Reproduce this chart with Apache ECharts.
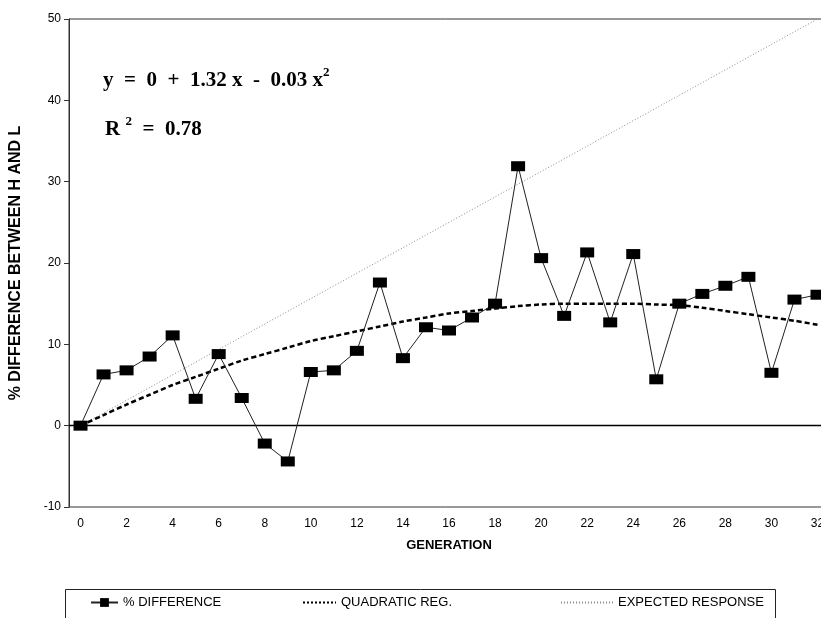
<!DOCTYPE html>
<html>
<head>
<meta charset="utf-8">
<script src="https://cdn.jsdelivr.net/npm/echarts@6/dist/echarts.min.js"></script>
<style>
  html, body { margin: 0; padding: 0; background: #fff; }
  #view { width: 821px; height: 618px; }
</style>
</head>
<body>
<div id="view"></div>
<script>
// generation 0..32
var generations = [];
for (var g = 0; g <= 32; g++) generations.push(String(g));

// % difference between H and L lines
var pctDiff = [0, 6.3, 6.8, 8.5, 11.1, 3.3, 8.8, 3.4, -2.2, -4.4,
  6.6, 6.8, 9.2, 17.6, 8.3, 12.1, 11.7, 13.3, 15.0, 31.9,
  20.6, 13.5, 21.3, 12.7, 21.1, 5.7, 15.0, 16.2, 17.2, 18.3,
  6.5, 15.5, 16.1];

// quadratic regression curve, read at each generation
var quadReg = [0, 1.3, 2.6, 3.8, 5.0, 6.0, 7.0, 8.0, 8.8, 9.6,
  10.4, 11.0, 11.6, 12.2, 12.8, 13.3, 13.8, 14.1, 14.4, 14.7,
  14.9, 15.0, 15.0, 15.0, 15.0, 14.9, 14.8, 14.5, 14.1, 13.7,
  13.3, 12.9, 12.4];

// expected response: straight line, two ends
var expectedGen = ['0', '32'];
var expectedVal = [0, 50];

var seriesNames = ['% DIFFERENCE', 'QUADRATIC REG.', 'EXPECTED RESPONSE'];

var font = 'Liberation Sans, Arial, sans-serif';
var serif = 'Liberation Serif, Times New Roman, serif';
var legendText = { fontFamily: font, fontSize: 13, color: '#000' };

var option = {
  animation: false,
  backgroundColor: '#fff',
  grid: {
    left: 69,
    right: -8,
    top: 19,
    bottom: 111,
    outerBoundsMode: 'none',
    containLabel: false,
    show: true,
    borderColor: '#333',
    borderWidth: 1
  },
  legend: [{
    data: [seriesNames[0]],
    left: 90, top: 596,
    padding: 0,
    itemWidth: 27, itemHeight: 11,
    textStyle: legendText
  }, {
    data: [seriesNames[1]],
    left: 302, top: 596,
    padding: 0,
    itemWidth: 33, itemHeight: 11,
    itemStyle: { opacity: 0 },
    lineStyle: { width: 2, type: [2, 2] },
    textStyle: legendText
  }, {
    data: [seriesNames[2]],
    left: 560, top: 596,
    padding: 0,
    itemWidth: 52, itemHeight: 11,
    itemStyle: { opacity: 0 },
    textStyle: legendText
  }],
  xAxis: {
    type: 'category',
    data: generations,
    boundaryGap: true,
    name: 'GENERATION',
    nameLocation: 'middle',
    nameGap: 32,
    nameTextStyle: { fontFamily: font, fontSize: 13, fontWeight: 'bold', color: '#000' },
    axisLine: { lineStyle: { color: '#333', width: 1 } },
    axisTick: { alignWithLabel: true, interval: 0, length: 7, lineStyle: { color: '#333' } },
    axisLabel: { interval: 1, margin: 11, fontFamily: font, fontSize: 12, color: '#000' },
    splitLine: { show: false }
  },
  yAxis: {
    type: 'value',
    min: -10,
    max: 50,
    interval: 10,
    name: '% DIFFERENCE BETWEEN H AND L',
    nameLocation: 'middle',
    nameRotate: 90,
    nameGap: 45,
    nameTextStyle: { fontFamily: font, fontSize: 16, fontWeight: 'bold', color: '#000' },
    axisLine: { show: true, lineStyle: { color: '#333', width: 1 } },
    axisTick: { show: true, length: 5, lineStyle: { color: '#333' } },
    axisLabel: { margin: 8, fontFamily: font, fontSize: 12, color: '#000' },
    splitLine: { show: false }
  },
  graphic: [{
    type: 'text',
    left: 103,
    top: 66,
    style: {
      text: '{m|y  =  0  +  1.32 x  -  0.03 x}{s|2}',
      rich: {
        m: { fontFamily: serif, fontSize: 21, fontWeight: 'bold', fill: '#000', lineHeight: 30 },
        s: { fontFamily: serif, fontSize: 13, fontWeight: 'bold', fill: '#000', lineHeight: 14, verticalAlign: 'top' }
      }
    }
  }, {
    type: 'text',
    left: 105,
    top: 115,
    style: {
      text: '{m|R }{s|2}{m|  =  0.78}',
      rich: {
        m: { fontFamily: serif, fontSize: 21, fontWeight: 'bold', fill: '#000', lineHeight: 30 },
        s: { fontFamily: serif, fontSize: 13, fontWeight: 'bold', fill: '#000', lineHeight: 14, verticalAlign: 'top' }
      }
    }
  }, {
    // legend frame, runs off the bottom edge
    type: 'rect',
    shape: { x: 65.5, y: 589.5, width: 710, height: 40 },
    style: { fill: 'none', stroke: '#222', lineWidth: 1 }
  }],
  series: [{
    name: seriesNames[2],
    type: 'line',
    data: expectedGen.map(function (g, i) { return [g, expectedVal[i]]; }),
    symbol: 'none',
    lineStyle: { color: '#8a8a8a', width: 1, type: [1, 2] },
    itemStyle: { color: '#8a8a8a' },
    z: 2
  }, {
    name: seriesNames[1],
    type: 'line',
    data: quadReg,
    symbol: 'none',
    smooth: 0.3,
    lineStyle: { color: '#000', width: 2.5, type: [5, 3] },
    itemStyle: { color: '#000' },
    z: 3
  }, {
    name: seriesNames[0],
    type: 'line',
    data: pctDiff,
    symbol: 'rect',
    symbolSize: [14, 10],
    lineStyle: { color: '#222', width: 1 },
    itemStyle: { color: '#000' },
    z: 4,
    markLine: {
      silent: true,
      symbol: 'none',
      label: { show: false },
      lineStyle: { color: '#000', width: 1.3, type: 'solid' },
      data: [{ yAxis: 0 }],
      z: 1
    }
  }]
};

echarts.init(document.getElementById('view')).setOption(option);
</script>
</body>
</html>
